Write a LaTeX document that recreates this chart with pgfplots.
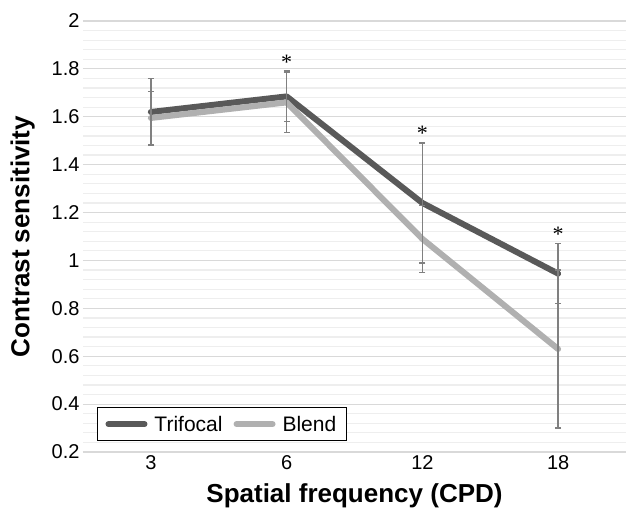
\documentclass[border=0pt]{standalone}
\usepackage{fontspec}
\setmainfont{Liberation Sans}
\newfontfamily\serifstar{Liberation Serif}
\usepackage{pgfplots}
\pgfplotsset{compat=1.18}

\definecolor{trif}{HTML}{595959}
\definecolor{blend}{HTML}{B0B0B0}
\definecolor{ebar}{HTML}{808080}
\definecolor{majgrid}{HTML}{D9D9D9}
\definecolor{mingrid}{HTML}{EEEEEE}

\begin{document}
\begin{tikzpicture}
\begin{axis}[
    name=ax,
    scale only axis,
    width=543pt, height=431pt,
    xmin=-0.5, xmax=3.5,
    ymin=0.2, ymax=2,
    xtick={0,1,2,3},
    xticklabels={3,6,12,18},
    ytick={0.2,0.4,...,2.01},
    minor y tick num=4,
    ymajorgrids, yminorgrids,
    major grid style={majgrid, line width=1.2pt},
    minor grid style={mingrid, line width=1.2pt},
    axis line style={draw=none},
    tick style={draw=none},
    tick label style={font=\fontsize{20}{22}\selectfont},
    yticklabel style={/pgf/number format/.cd, fixed, precision=1, assume math mode=true},
    xticklabel style={/pgf/number format/assume math mode=true},
    ylabel={\bfseries Contrast sensitivity},
    xlabel={\bfseries Spatial frequency (CPD)},
    label style={font=\fontsize{26}{28}\selectfont},
    ylabel style={at={([xshift=-48pt]axis description cs:0,0.5)}, anchor=south, inner sep=0pt},
    xlabel style={at={([yshift=-31pt]axis description cs:0.5,0)}, anchor=north, inner sep=0pt},
    legend style={at={([xshift=14pt,yshift=11pt]axis description cs:0,0)}, anchor=south west,
        draw=black, line width=1pt, font=\fontsize{21}{23}\selectfont, legend columns=2,
        inner xsep=8pt, inner ysep=6pt,
        /tikz/every odd column/.append style={column sep=5pt},
        /tikz/every even column/.append style={column sep=9pt}},
    legend image code/.code={\draw[#1, line cap=round] (0pt,0pt) -- (36pt,0pt);},
    clip=false,
]
\addplot+[trif, line width=6pt, line cap=round, line join=round, mark=none,
    error bars/.cd, y dir=both, y explicit,
    error bar style={ebar, line width=1.6pt, line cap=butt},
    error mark options={ebar, line width=1.6pt, mark size=3pt, rotate=90}]
coordinates {
    (0,1.62)  +- (0,0.14)
    (1,1.685) +- (0,0.105)
    (2,1.24)  +- (0,0.25)
    (3,0.945) +- (0,0.125)
};
\addlegendentry{Trifocal}
\addplot+[blend, line width=6pt, line cap=round, line join=round, mark=none,
    error bars/.cd, y dir=both, y explicit,
    error bar style={ebar, line width=1.6pt, line cap=butt},
    error mark options={ebar, line width=1.6pt, mark size=3pt, rotate=90}]
coordinates {
    (0,1.595) +- (0,0.11)
    (1,1.66)  +- (0,0.125)
    (2,1.09)  +- (0,0.14)
    (3,0.63)  +- (0,0.33)
};
\addlegendentry{Blend}
\node[above, inner sep=2pt, font=\serifstar\fontsize{22}{22}\selectfont] at (axis cs:1,1.79) {*};
\node[above, inner sep=2pt, font=\serifstar\fontsize{22}{22}\selectfont] at (axis cs:2,1.49) {*};
\node[above, inner sep=2pt, font=\serifstar\fontsize{22}{22}\selectfont] at (axis cs:3,1.07) {*};
\end{axis}
\pgfresetboundingbox
\path ([shift={(-83pt,-56pt)}]ax.south west) rectangle ([shift={(2pt,21pt)}]ax.north east);
\end{tikzpicture}
\end{document}
